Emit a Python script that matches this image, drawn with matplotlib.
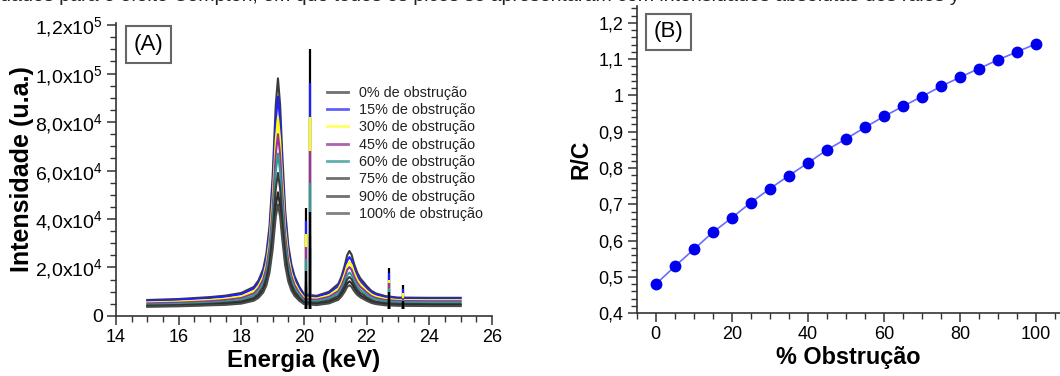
import numpy as np
import matplotlib
matplotlib.use("Agg")
import matplotlib.pyplot as plt
from matplotlib.ticker import MultipleLocator

plt.rcParams['font.family'] = ['Liberation Sans', 'DejaVu Sans']
plt.rcParams['mathtext.fontset'] = 'custom'
plt.rcParams['mathtext.rm'] = 'Liberation Sans'

# ---------- painel A : espectros (intensidade em milhares) ----------
energy = [15.0, 16.0, 17.0, 17.5, 18.0, 18.4, 18.55, 18.7, 18.8, 18.9, 19.0, 19.1, 19.17, 19.24,
          19.3, 19.4, 19.5, 19.6, 19.7, 19.85, 20.0,
          20.4, 20.8, 21.1, 21.2, 21.3, 21.38, 21.45, 21.52, 21.6, 21.7, 21.8, 21.9, 22.0, 22.15,
          22.3, 22.6, 23.0, 24.0, 25.0]

obs_0 = [6.6, 7.0, 7.8, 8.4, 9.5, 12.0, 14.7, 19.4, 25.7, 36.9, 57.4, 87.0, 98.0, 87.0,
         68.9, 43.6, 29.1, 21.2, 16.4, 12.1, 9.0,
         8.3, 10.0, 13.3, 16.4, 20.8, 25.1, 26.8, 25.3, 21.5, 17.9, 15.5, 14.0, 12.4, 10.4,
         9.3, 8.2, 7.6, 7.5, 7.5]
obs_15 = [6.3, 6.7, 7.4, 8.0, 9.0, 11.3, 13.8, 18.1, 23.9, 34.2, 53.1, 80.3, 90.5, 80.3,
          63.7, 40.4, 27.0, 19.7, 15.3, 11.4, 8.5,
          7.9, 9.4, 12.3, 15.1, 19.0, 22.8, 24.3, 23.0, 19.6, 16.4, 14.3, 13.0, 11.5, 9.8,
          8.8, 7.8, 7.3, 7.2, 7.2]
obs_30 = [5.6, 5.9, 6.6, 7.1, 8.0, 10.1, 12.4, 16.3, 21.6, 30.9, 48.1, 72.8, 82.0, 72.8,
          57.7, 36.5, 24.4, 17.8, 13.8, 10.2, 7.6,
          7.2, 8.5, 11.3, 13.8, 17.4, 20.9, 22.3, 21.1, 18.0, 15.0, 13.1, 11.8, 10.5, 8.9,
          8.0, 7.1, 6.6, 6.5, 6.5]
obs_45 = [5.2, 5.5, 6.1, 6.6, 7.4, 9.3, 11.4, 15.0, 19.8, 28.3, 44.0, 66.6, 75.0, 66.6,
          52.8, 33.5, 22.4, 16.4, 12.7, 9.4, 7.0,
          6.7, 7.9, 10.3, 12.6, 15.8, 19.0, 20.2, 19.1, 16.3, 13.7, 12.0, 10.9, 9.7, 8.2,
          7.4, 6.6, 6.2, 6.1, 6.1]
obs_60 = [4.7, 5.0, 5.5, 5.9, 6.7, 8.4, 10.2, 13.4, 17.7, 25.4, 39.3, 59.5, 67.0, 59.5,
          47.2, 29.9, 20.0, 14.7, 11.4, 8.5, 6.3,
          6.1, 7.2, 9.3, 11.3, 14.1, 16.8, 17.9, 16.9, 14.5, 12.2, 10.7, 9.7, 8.7, 7.5,
          6.8, 6.0, 5.7, 5.6, 5.6]
obs_75 = [4.3, 4.5, 5.0, 5.4, 6.0, 7.5, 9.1, 12.0, 15.7, 22.4, 34.7, 52.4, 59.0, 52.4,
          41.6, 26.4, 17.8, 13.0, 10.2, 7.6, 5.7,
          5.4, 6.4, 8.3, 10.1, 12.6, 15.1, 16.1, 15.2, 13.0, 10.9, 9.5, 8.7, 7.7, 6.6,
          5.9, 5.3, 5.0, 4.9, 4.9]
obs_90 = [4.0, 4.2, 4.6, 4.9, 5.5, 6.8, 8.2, 10.6, 13.8, 19.6, 30.1, 45.3, 51.0, 45.3,
          36.0, 23.0, 15.6, 11.5, 9.0, 6.8, 5.2,
          4.8, 5.7, 7.4, 9.0, 11.2, 13.4, 14.3, 13.5, 11.6, 9.7, 8.5, 7.7, 6.9, 5.9,
          5.3, 4.8, 4.5, 4.4, 4.4]
obs_100 = [3.8, 4.0, 4.4, 4.6, 5.1, 6.3, 7.5, 9.7, 12.6, 17.8, 27.3, 40.9, 46.0, 40.9,
           32.6, 20.9, 14.2, 10.5, 8.3, 6.3, 4.9,
           4.5, 5.2, 6.7, 8.1, 10.0, 12.0, 12.7, 12.0, 10.3, 8.7, 7.7, 7.0, 6.3, 5.4,
           4.9, 4.4, 4.2, 4.1, 4.1]

# linhas estreitas (picos finos) e altura em cada espectro
spike_energy = [20.05, 20.2, 22.7, 23.15]
spike_heights = [
    [44.6, 110.0, 19.8, 12.7],
    [39.0, 96.0, 17.8, 11.3],
    [34.0, 82.0, 15.0, 9.3],
    [28.4, 68.0, 13.5, 7.5],
    [23.7, 55.0, 11.6, 6.8],
    [18.5, 43.0, 10.0, 6.2],
    [14.0, 33.0, 8.5, 5.6],
    [12.0, 28.0, 7.5, 5.0],
]

labels_a = ['0% de obstrução', '15% de obstrução', '30% de obstrução', '45% de obstrução',
            '60% de obstrução', '75% de obstrução', '90% de obstrução', '100% de obstrução']
colors_a = ['#3a3a3a', '#2020ff', '#ffff00', '#993399', '#2f9a96', '#3a3a3a', '#2a2a2a', '#4a4a4a']
spike_colors = ['#000000', '#2020ff', '#ffff00', '#993399', '#2f9a96', '#000000', '#000000', '#000000']
legend_colors = ['#707070', '#6060ff', '#ffff66', '#b060b0', '#60b0b0', '#707070', '#707070', '#808080']

ytick_vals = [0, 20000, 40000, 60000, 80000, 100000, 120000]
ytick_labels = ['0', r'2,0x10$^4$', r'4,0x10$^4$', r'6,0x10$^4$', r'8,0x10$^4$',
                r'1,0x10$^5$', r'1,2x10$^5$']

# ---------- painel B : razao R/C ----------
obstrucao = [0, 5, 10, 15, 20, 25, 30, 35, 40, 45, 50, 55, 60, 65, 70, 75, 80, 85, 90, 95, 100]
rc = [0.480, 0.529, 0.576, 0.623, 0.663, 0.705, 0.743, 0.779, 0.814, 0.850, 0.880,
      0.912, 0.942, 0.970, 0.997, 1.025, 1.050, 1.074, 1.098, 1.120, 1.142]
rc_ticks = [0.4, 0.5, 0.6, 0.7, 0.8, 0.9, 1.0, 1.1, 1.2]
rc_labels = ['0,4', '0,5', '0,6', '0,7', '0,8', '0,9', '1', '1,1', '1,2']

spectra = [obs_0, obs_15, obs_30, obs_45, obs_60, obs_75, obs_90, obs_100]

fig = plt.figure(figsize=(10.6, 3.76), dpi=100)

# texto cortado da legenda da figura acima
fig.text(0.0, 0.998, 'dados para o efeito Compton, em que todos os picos se apresentaram com intensidades absolutas dos raios y',
         fontsize=14, va='baseline', ha='left', color='#222222')


def style_axis(ax, ysize=13):
    for s in ['top', 'right']:
        ax.spines[s].set_visible(False)
    for s in ['left', 'bottom']:
        ax.spines[s].set_linewidth(1.2)
        ax.spines[s].set_color('#333333')
    ax.tick_params(which='major', direction='out', length=6.5, width=1.1, color='#333333',
                   labelsize=13, pad=3)
    ax.tick_params(axis='y', labelsize=ysize)
    ax.tick_params(which='minor', direction='out', length=4, width=1.0, color='#333333')


axA = fig.add_axes([0.1094, 0.1596, 0.3547, 0.779])
for i, ys in enumerate(spectra):
    axA.plot(energy, np.array(ys) * 1000, color=colors_a[i], lw=1.5, zorder=2 + i)
    axA.vlines(spike_energy, 3000, np.array(spike_heights[i]) * 1000,
               color=spike_colors[i], lw=1.6, zorder=2 + i)

axA.set_xlim(14, 26)
axA.set_ylim(0, 120800)
axA.set_xticks([14, 16, 18, 20, 22, 24, 26])
axA.xaxis.set_minor_locator(MultipleLocator(0.5))
axA.set_yticks(ytick_vals, ytick_labels)
axA.yaxis.set_minor_locator(MultipleLocator(5000))
style_axis(axA, ysize=14)
axA.set_xlabel('Energia (keV)', fontsize=17.3, fontweight='bold', labelpad=2)
axA.set_ylabel('Intensidade (u.a.)', fontsize=18, fontweight='bold', labelpad=1)

handles = [plt.Line2D([], [], color=c, lw=2) for c in legend_colors]
axA.legend(handles, labels_a, loc='upper left', bbox_to_anchor=(0.56, 0.786), frameon=False,
           fontsize=10.4, labelspacing=0.23, handlelength=1.5, handletextpad=0.75,
           borderpad=0, borderaxespad=0, labelcolor='#222222')
axA.text(0.086, 0.927, '(A)', transform=axA.transAxes, fontsize=16, ha='center', va='center',
         bbox=dict(boxstyle='square,pad=0.35', fc='white', ec='#666666', lw=1.5))

axB = fig.add_axes([0.6007, 0.1668, 0.3993, 0.817])
axB.plot(obstrucao, rc, color='#6b6bff', lw=1.2, zorder=2)
axB.plot(obstrucao, rc, 'o', color='#0000ee', ms=7.5, zorder=3)
axB.set_xlim(-5, 106.3)
axB.set_ylim(0.4, 1.246)
axB.set_xticks([0, 20, 40, 60, 80, 100])
axB.xaxis.set_minor_locator(MultipleLocator(5))
axB.set_yticks(rc_ticks, rc_labels)
axB.yaxis.set_minor_locator(MultipleLocator(0.02))
style_axis(axB)
axB.set_xlabel('% Obstrução', fontsize=16.8, fontweight='bold', labelpad=2)
axB.set_ylabel('R/C', fontsize=16.5, fontweight='bold', labelpad=4)
axB.text(0.075, 0.916, '(B)', transform=axB.transAxes, fontsize=16, ha='center', va='center',
         bbox=dict(boxstyle='square,pad=0.35', fc='white', ec='#666666', lw=1.5))

fig.savefig('out.png', dpi=100)
